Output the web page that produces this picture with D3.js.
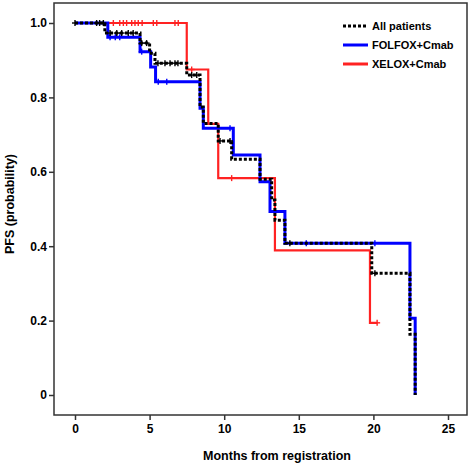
<!DOCTYPE html>
<html><head><meta charset="utf-8">
<script src="https://cdn.jsdelivr.net/npm/d3@7/dist/d3.min.js"></script>
<style>body{margin:0;background:#fff}svg{display:block}text{font-family:"Liberation Sans",Arial,sans-serif;font-weight:bold;fill:#000}</style>
</head><body><svg id="c" width="472" height="464"></svg>
<script>
// Kaplan–Meier step data (time in months, survival after the drop)
const allTimes = [0, 2.0, 4.36, 5.0, 5.36, 7.49, 8.38, 8.6, 9.6, 10.5, 12.4, 13.18, 13.4, 14.07, 19.89, 22.45, 22.8];
const allSurv  = [1, 0.973, 0.946, 0.919, 0.892, 0.860, 0.774, 0.730, 0.683, 0.634, 0.580, 0.524, 0.470, 0.408, 0.327, 0.163, 0];
const allCens  = [0, 1.45, 1.65, 1.9, 2.35, 2.8, 3.13, 3.57, 3.9, 4.47, 4.8, 5.56, 6.03, 6.37, 6.7, 6.9, 7.82, 8.16, 9.72, 10.39, 14.4, 20.1];
const allEnd = 22.8;

const folTimes = [0, 2.2, 4.36, 5.07, 5.4, 8.38, 8.6, 10.61, 12.4, 13.07, 14.07, 22.45, 22.8];
const folSurv  = [1, 0.962, 0.923, 0.882, 0.842, 0.771, 0.717, 0.645, 0.573, 0.493, 0.408, 0.206, 0];
const folCens  = [2.35, 2.7, 3.0, 4.47, 5.58, 6.15, 10.39, 15.5, 20.1];
const folEnd = 22.8;

const xelTimes = [0, 7.49, 8.93, 9.6, 13.4, 19.77];
const xelSurv  = [1, 0.875, 0.729, 0.583, 0.389, 0.194];
const xelCens  = [2.57, 3.0, 3.24, 3.46, 3.8, 4.02, 4.24, 4.5, 5.25, 5.48, 6.7, 6.92, 7.82, 10.5, 20.25];
const xelEnd = 20.25;

const xTicks = [0, 5, 10, 15, 20, 25];
const yTicks = [0, 0.2, 0.4, 0.6, 0.8, 1.0];
const yTickLabels = ["0", "0.2", "0.4", "0.6", "0.8", "1.0"];
const legendLabels = ["All patients", "FOLFOX+Cmab", "XELOX+Cmab"];
const colors = ["#000000", "#0000ff", "#ff2222"];

const svg = d3.select("#c");
const frame = {l: 54, r: 467, t: 3, b: 415};
const x = d3.scaleLinear().domain([0, 25]).range([75, 448]);
const y = d3.scaleLinear().domain([0, 1]).range([395, 23]);

// frame
svg.append("rect").attr("x", frame.l).attr("y", frame.t)
  .attr("width", frame.r - frame.l).attr("height", frame.b - frame.t)
  .attr("fill", "none").attr("stroke", "#333").attr("stroke-width", 1.5);

// y axis
const yAxis = d3.axisLeft(y).tickValues(yTicks).tickSize(5).tickPadding(2)
  .tickFormat((d, i) => yTickLabels[i]);
const gy = svg.append("g").attr("transform", `translate(${frame.l},0)`).call(yAxis);
gy.select(".domain").remove();
gy.selectAll("line").attr("stroke", "#333").attr("stroke-width", 1.5);
gy.selectAll("text").style("font-size", "12px").style("font-weight", "bold").attr("fill", "#000");

// x axis
const xAxis = d3.axisBottom(x).tickValues(xTicks).tickSize(5).tickPadding(4);
const gx = svg.append("g").attr("transform", `translate(0,${frame.b})`).call(xAxis);
gx.select(".domain").remove();
gx.selectAll("line").attr("stroke", "#333").attr("stroke-width", 1.5);
gx.selectAll("text").style("font-size", "12px").style("font-weight", "bold").attr("fill", "#000");

// axis titles
svg.append("text").attr("x", 277).attr("y", 460).attr("text-anchor", "middle")
  .style("font-size", "12.5px").text("Months from registration");
svg.append("text").attr("transform", "translate(14,204) rotate(-90)").attr("text-anchor", "middle")
  .style("font-size", "12.5px").text("PFS (probability)");

function survAt(times, surv, t) {
  let v = surv[0];
  for (let i = 0; i < times.length; i++) if (times[i] <= t) v = surv[i];
  return v;
}
const line = d3.line().x(d => x(d[0])).y(d => y(d[1])).curve(d3.curveStepAfter);

function drawSeries(times, surv, cens, end, color, dashed, width) {
  const pts = times.map((t, i) => [t, surv[i]]);
  if (times[times.length - 1] < end) pts.push([end, surv[surv.length - 1]]);
  const p = svg.append("path").attr("d", line(pts)).attr("fill", "none")
    .attr("stroke", color).attr("stroke-width", width);
  if (dashed) p.attr("stroke-dasharray", "3,2");
  const g = svg.append("g").attr("stroke", color).attr("stroke-width", 1.4);
  cens.forEach(t => {
    const cx = x(t), cy = y(survAt(times, surv, t));
    g.append("line").attr("x1", cx - 3).attr("x2", cx + 3).attr("y1", cy).attr("y2", cy);
    g.append("line").attr("x1", cx).attr("x2", cx).attr("y1", cy - 3).attr("y2", cy + 3);
  });
}
drawSeries(xelTimes, xelSurv, xelCens, xelEnd, colors[2], false, 2.2);
drawSeries(folTimes, folSurv, folCens, folEnd, colors[1], false, 3);
drawSeries(allTimes, allSurv, allCens, allEnd, colors[0], true, 3);

// legend
const lg = svg.append("g");
legendLabels.forEach((lab, i) => {
  const ly = 26 + i * 19;
  const l = lg.append("line").attr("x1", 343).attr("x2", 368).attr("y1", ly).attr("y2", ly)
    .attr("stroke", colors[i]).attr("stroke-width", i === 0 ? 3 : 3);
  if (i === 0) l.attr("stroke-dasharray", "3,2");
  lg.append("text").attr("x", 372).attr("y", ly + 4).style("font-size", "11px").text(lab);
});
</script></body></html>
